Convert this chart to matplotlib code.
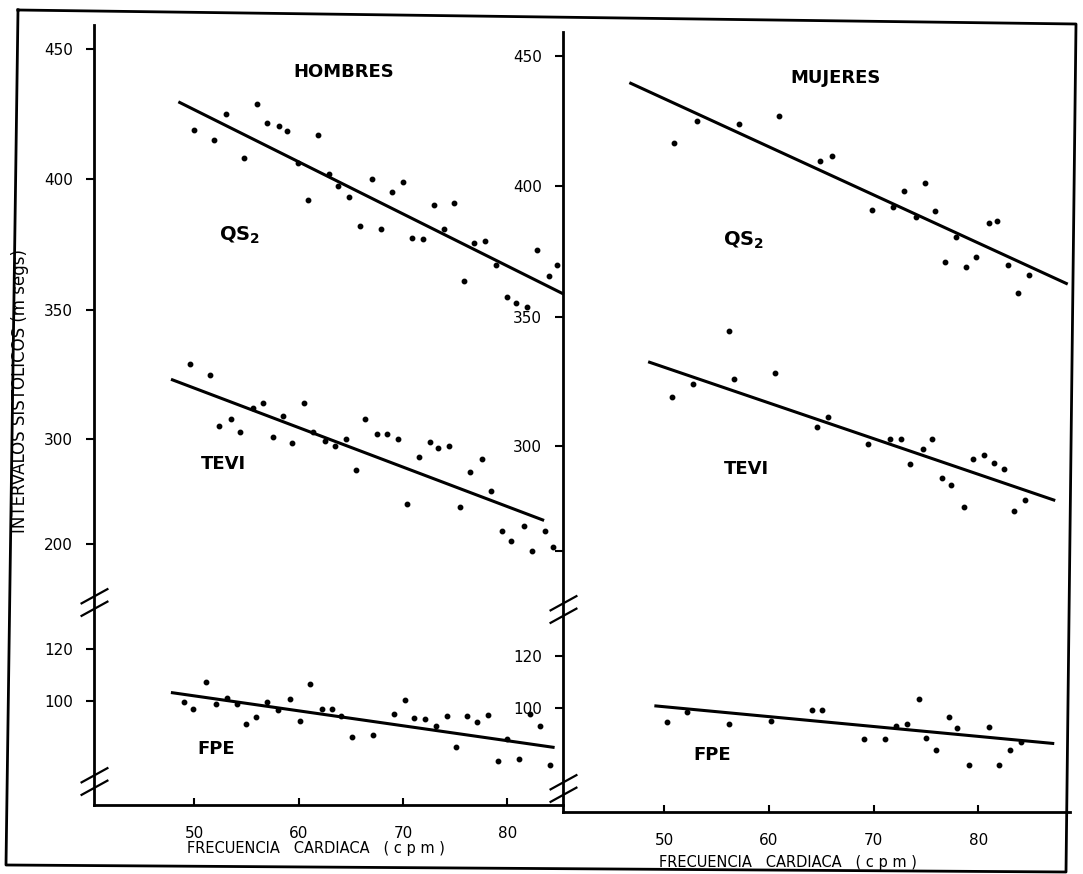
import numpy as np
import matplotlib
matplotlib.use("Agg")
import matplotlib.pyplot as plt
from matplotlib.path import Path
from matplotlib.lines import Line2D

# frecuencia cardiaca (cpm) / intervalos sistolicos (msegs) -- HOMBRES
h_qs2_x = [50.0, 51.9, 53.0, 54.8, 56.0, 57.0, 58.1, 58.9, 59.9, 60.9, 61.9, 62.9, 63.8, 64.8, 65.9, 67.0, 67.9,
           69.0, 70.0, 70.9, 71.9, 73.0, 73.9, 74.9, 75.9, 76.8, 77.9, 78.9, 80.0, 80.8, 81.9, 82.9, 84.0, 84.8]
h_qs2_y = [419, 415, 425, 408, 429, 421.5, 420.5, 418.5, 406, 392, 417, 402, 397.5, 393, 382, 400, 381,
           395, 399, 377.5, 377, 390, 381, 391, 361, 375.5, 376.5, 367, 355, 352.5, 351, 373, 363, 367]
h_tevi_x = [49.6, 51.5, 52.4, 53.5, 54.4, 55.6, 56.6, 57.5, 58.5, 59.4, 60.5, 61.4, 62.5, 63.5, 64.5, 65.5, 66.4, 67.5,
            68.5, 69.5, 70.4, 71.5, 72.6, 73.4, 74.4, 75.5, 76.4, 77.6, 78.4, 79.5, 80.4, 81.6, 82.4, 83.6, 84.4]
h_tevi_y = [329, 325, 305, 308, 303, 312, 314, 301, 309, 296, 314, 303, 298, 294, 300, 271, 308, 302,
            302, 300, 238, 283, 297, 292, 294, 235, 268.5, 281, 251, 212, 203, 217, 194.5, 212, 198]
h_fpe_x = [49.0, 49.9, 51.1, 52.1, 53.1, 54.1, 55.0, 55.9, 57.0, 58.0, 59.2, 60.1, 61.1, 62.2, 63.2, 64.1, 65.1,
           67.1, 69.1, 70.2, 71.1, 72.1, 73.2, 74.2, 75.1, 76.1, 77.1, 78.2, 79.1, 80.0, 81.1, 82.2, 83.1, 84.1]
h_fpe_y = [99.7, 97.0, 107.2, 98.7, 101.3, 98.7, 91.1, 93.8, 99.7, 96.5, 100.8, 92.4, 106.6, 96.8, 96.8, 94.2, 86.2,
           86.7, 95.0, 100.3, 93.4, 93.0, 90.3, 94.3, 82.1, 94.3, 91.8, 94.7, 76.8, 85.2, 77.6, 95.0, 90.3, 75.2]

# MUJERES
m_qs2_x = [50.9, 53.1, 57.1, 61.0, 64.9, 66.0, 69.8, 71.8, 72.9, 74.0, 74.9, 75.9, 76.8, 77.9, 78.8, 79.8,
           81.0, 81.8, 82.8, 83.8, 84.8]
m_qs2_y = [416.5, 425, 424, 427, 409.5, 411.5, 391, 392, 398, 388, 401, 390.5, 371, 380.5, 369, 373,
           386, 386.5, 370, 359, 366]
m_tevi_x = [50.7, 52.7, 56.2, 56.7, 60.6, 64.6, 65.6, 69.5, 71.6, 72.6, 73.5, 74.7, 75.6, 76.5, 77.4, 78.6,
            79.5, 80.5, 81.5, 82.4, 83.4, 84.5]
m_tevi_y = [319, 324, 344.5, 326, 328.5, 307.5, 311.5, 301, 303, 303, 283, 297, 303, 270, 263, 242,
            288, 292, 284, 278, 238.5, 249]
m_fpe_x = [50.3, 52.2, 56.2, 60.2, 64.1, 65.1, 69.1, 71.1, 72.1, 73.2, 74.3, 75.0, 76.0, 77.2, 78.0, 79.1,
           81.0, 82.0, 83.0, 84.1]
m_fpe_y = [94.7, 98.6, 93.8, 95.1, 99.1, 99.1, 88.0, 88.0, 93.2, 93.8, 103.4, 88.4, 83.6, 96.5, 92.1, 78.0,
           92.8, 78.0, 83.8, 86.7]

# rectas de regresion (extremos)
h_qs2_fit = ([48.6, 85.3], [429.5, 356.3])
h_tevi_fit = ([47.9, 83.4], [323.0, 223.0])
h_fpe_fit = ([47.9, 84.4], [103.2, 82.1])
m_qs2_fit = ([46.8, 88.4], [439.6, 362.8])
m_tevi_fit = ([48.6, 87.2], [332.5, 248.7])
m_fpe_fit = ([49.2, 87.1], [100.8, 86.3])

y_ticks = [100, 120, 200, 300, 350, 400, 450]
x_ticks = [50, 60, 70, 80]
breaks = [156, 69]

# the printed axis is not linear (300 -> 200 is squeezed, then a break)
SCALE_V = [0, 100, 120, 200, 300, 350, 400, 450, 600]
SCALE_P = [-959.5, -701, -649.3, -544, -439.3, -310, -179, -49.3, 340.7]


def fwd(v):
    return np.interp(v, SCALE_V, SCALE_P)


def inv(p):
    return np.interp(p, SCALE_P, SCALE_V)


W, H = 1083, 874
fig = plt.figure(figsize=(W / 100, H / 100), dpi=100)


def box(x0, y0, x1, y1):
    return [x0 / W, 1 - y1 / H, (x1 - x0) / W, (y1 - y0) / H]


ax_h = fig.add_axes(box(94, 25, 563, 805))
ax_m = fig.add_axes(box(563, 32, 1070, 812))

brk = Path([(-1, -1), (1, 0.1), (-1, -0.1), (1, 1)],
           [Path.MOVETO, Path.LINETO, Path.MOVETO, Path.LINETO])

for ax, xlim, ylabels in [(ax_h, (40.38, 85.35), ["100", "120", "200", "300", "350", "400", "450"]),
                          (ax_m, (40.33, 88.75), ["100", "120", "", "300", "350", "400", "450"])]:
    ax.set_yscale("function", functions=(fwd, inv))
    ax.set_xlim(*xlim)
    ax.set_ylim(59.77, 459.35)
    ax.set_yticks(y_ticks)
    ax.set_yticklabels(ylabels)
    ax.set_xticks(x_ticks)
    ax.minorticks_off()
    for s in ["top", "right"]:
        ax.spines[s].set_visible(False)
    for s in ["left", "bottom"]:
        ax.spines[s].set_linewidth(2)
    ax.tick_params(axis="y", direction="out", length=6, width=1.5, pad=9, labelsize=11)
    ax.tick_params(axis="x", direction="in", length=5, width=1.5, pad=15, labelsize=11)
    ax.patch.set_alpha(0)
    for b in breaks:
        ax.plot([xlim[0]], [b], marker=brk, markersize=20, mew=1.6, color="black",
                linestyle="none", clip_on=False, zorder=5)

for ax, series in [(ax_h, [(h_qs2_x, h_qs2_y, h_qs2_fit), (h_tevi_x, h_tevi_y, h_tevi_fit),
                           (h_fpe_x, h_fpe_y, h_fpe_fit)]),
                   (ax_m, [(m_qs2_x, m_qs2_y, m_qs2_fit), (m_tevi_x, m_tevi_y, m_tevi_fit),
                           (m_fpe_x, m_fpe_y, m_fpe_fit)])]:
    for xs, ys, fit in series:
        ax.plot(xs, ys, "o", color="black", markersize=3.2, clip_on=False)
        ax.plot(fit[0], fit[1], color="black", linewidth=2.2, clip_on=False)


def ftext(x, y, s, **kw):
    fig.text(x / W, 1 - y / H, s, ha="center", va="center", **kw)


ftext(344, 72, "HOMBRES", fontsize=13, fontweight="bold")
ftext(836, 78, "MUJERES", fontsize=13, fontweight="bold")
for x, y in [(240, 235), (744, 240)]:
    ftext(x, y, r"QS$_\mathbf{2}$", fontsize=14, fontweight="bold")
ftext(223, 464, "TEVI", fontsize=13, fontweight="bold")
ftext(746, 469, "TEVI", fontsize=13, fontweight="bold")
ftext(216, 749, "FPE", fontsize=13, fontweight="bold")
ftext(712, 755, "FPE", fontsize=13, fontweight="bold")
ftext(316, 849, "FRECUENCIA   CARDIACA   ( c p m )", fontsize=10.5)
ftext(788, 863, "FRECUENCIA   CARDIACA   ( c p m )", fontsize=10.5)
ftext(20, 391, "INTERVALOS SISTOLICOS (m segs)", rotation=90, fontsize=12,
      family=["Liberation Sans Narrow", "DejaVu Sans"])

# outer frame of the scanned figure (slightly rotated)
frame_x = [18, 1076, 1066, 6, 18]
frame_y = [10, 24, 872, 865, 10]
fig.add_artist(Line2D([x / W for x in frame_x], [1 - y / H for y in frame_y],
                      color="black", linewidth=2, transform=fig.transFigure))

fig.savefig("out.png", dpi=100, facecolor="white")
